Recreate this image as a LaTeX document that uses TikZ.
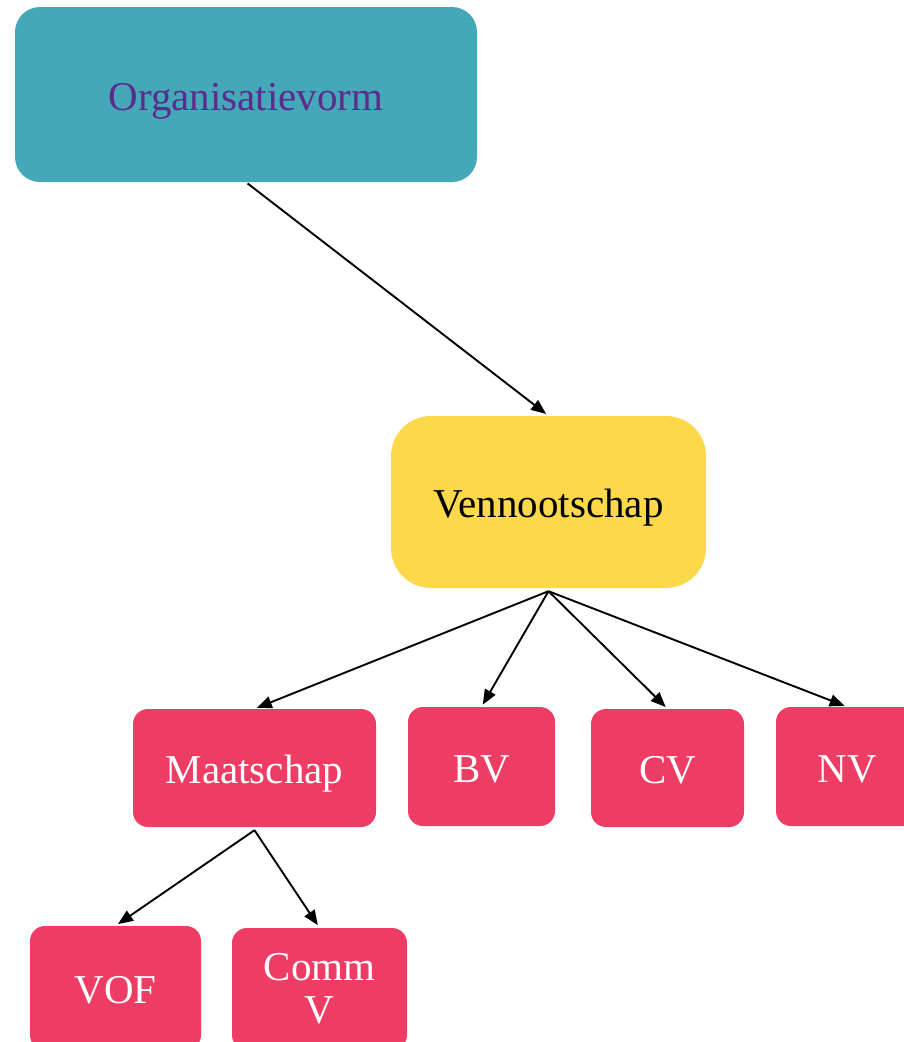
\documentclass[tikz,border=0pt]{standalone}
\usepackage{fontspec}
\setmainfont{Liberation Serif}
\usetikzlibrary{arrows.meta}
\definecolor{teal1}{HTML}{45A8B8}
\definecolor{purp}{HTML}{5A2D8C}
\definecolor{yel}{HTML}{FCD84B}
\definecolor{redb}{HTML}{EE3D64}
\tikzset{
  box/.style={inner sep=0pt, align=center, font=\fontsize{41}{43}\selectfont},
  oneline/.style={text height=34pt, text depth=3pt},
  topbox/.style={box, oneline, fill=teal1, text=purp, rounded corners=25pt},
  midbox/.style={box, oneline, fill=yel, text=black, rounded corners=40pt},
  leafbox/.style={box, fill=redb, text=white, rounded corners=15pt},
  conn/.style={line width=1.9pt, -{Triangle[length=15pt,width=12pt]}}
}
\begin{document}
\begin{tikzpicture}[x=1pt,y=-1pt]
\useasboundingbox (0,0) rectangle (904,1042);
\clip (0,0) rectangle (904,1042);
\node[topbox, minimum width=462pt, minimum height=175pt] (org) at (246,94.5) {Organisatievorm};
\node[midbox, minimum width=315pt, minimum height=172pt] (venn) at (548.5,502) {Vennootschap};
\node[leafbox, oneline, minimum width=243pt, minimum height=118pt] (maat) at (254.5,768) {Maatschap};
\node[leafbox, oneline, minimum width=147pt, minimum height=119pt] (bv) at (481.5,766.5) {BV};
\node[leafbox, oneline, minimum width=153pt, minimum height=118pt] (cv) at (667.5,768) {CV};
\node[leafbox, oneline, minimum width=142pt, minimum height=119pt] (nv) at (847,766.5) {NV};
\node[leafbox, oneline, minimum width=171pt, minimum height=124pt] (vof) at (115.5,988) {VOF};
\node[leafbox, minimum width=175pt, minimum height=122pt] (comm) at (319.5,989) {Comm\\V};
\coordinate (vtap) at ([yshift=-3pt]venn.south);
\coordinate (mtap) at ([yshift=-3pt]maat.south);
\draw[conn, shorten <=2pt, shorten >=3pt] (org.south) -- (venn.north);
\foreach \t in {maat,bv,cv,nv}
  \draw[conn, shorten >=2.5pt] (vtap) -- (\t.north);
\foreach \t in {vof,comm}
  \draw[conn, shorten >=3pt] (mtap) -- (\t.north);
\end{tikzpicture}
\end{document}
